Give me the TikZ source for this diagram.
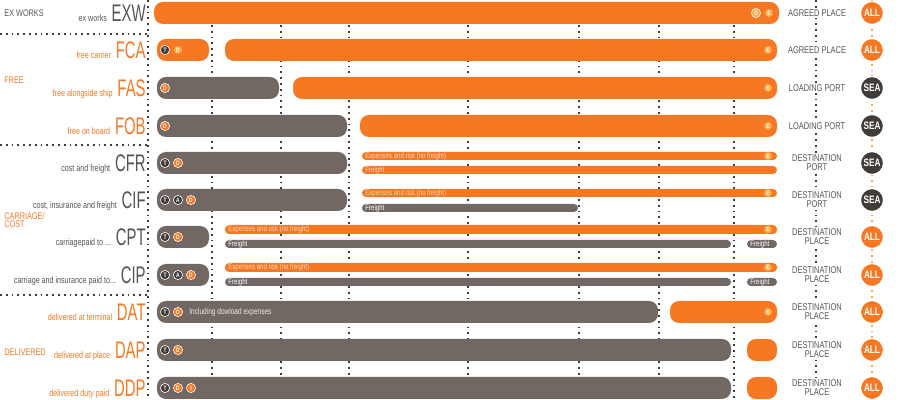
\documentclass[tikz,border=0pt]{standalone}
\usepackage{fontspec}
\newfontfamily\condfont{Liberation Sans}[FakeStretch=0.76]
\newfontfamily\termfont{Liberation Sans}[FakeStretch=0.62]
\definecolor{incoorange}{RGB}{246,120,34}
\definecolor{incogray}{RGB}{113,104,100}
\definecolor{incodark}{RGB}{66,60,57}
\definecolor{incolight}{RGB}{250,170,70}
\definecolor{labelgray}{RGB}{85,85,85}
\tikzset{
  bar/.style={rounded corners=4.5pt},
  thinbar/.style={rounded corners=2pt},
  griddots/.style={line width=0.9pt, dotted, incodark},
  icon/.style={circle, inner sep=0pt, minimum size=4.6pt, draw=white, line width=0.3pt,
    font=\condfont\bfseries\fontsize{3.2}{3.2}\selectfont, text=white},
  ticon/.style={icon, fill=incodark},
  dicon/.style={icon, fill=incoorange},
  eicon/.style={icon, fill=incolight, draw=none, minimum size=4pt},
  code/.style={anchor=base east, inner sep=0pt, font=\termfont\fontsize{12}{12}\selectfont},
  descr/.style={anchor=base east, inner sep=0pt, font=\condfont\fontsize{4.7}{5}\selectfont},
  group/.style={anchor=west, inner sep=0pt, align=left, font=\condfont\fontsize{4.8}{4.4}\selectfont},
  place/.style={fill=white, inner sep=1pt, align=center, text=labelgray,
    font=\condfont\fontsize{4.9}{4.6}\selectfont},
  mode/.style={circle, minimum size=11.5pt, inner sep=0pt, text=white,
    font=\condfont\bfseries\fontsize{5.4}{5}\selectfont},
  bartext/.style={anchor=west, inner sep=0pt, font=\condfont\fontsize{4}{4}\selectfont},
}
\begin{document}
\begin{tikzpicture}[x=0.5pt,y=-0.5pt]
  \useasboundingbox (0,0) rectangle (900,400);

  % Grid
  \draw[griddots] (148,0) -- (148,400);
  \foreach \y in {34,145,295}
    \draw[griddots] (0,\y) -- (148,\y);
  \foreach \x in {212,281,349,468,579,659,734}
    \draw[griddots] (\x,25) -- (\x,400);
  \draw[griddots] (816,0) -- (816,400);
  \draw[line width=0.9pt, dotted, incolight] (872,0) -- (872,400);

  % Groups
  \node[group, text=labelgray] (gexw) at (4,13) {EX WORKS};
  \node[group, text=incoorange] (gfree) at (4,80) {FREE};
  \node[group, text=incoorange] (gcost) at (4,220) {CARRIAGE/\\COST};
  \node[group, text=incoorange] (gdel) at (4,352) {DELIVERED};

  % Terms
  \foreach \y/\name/\term/\txt/\col in {
      13/exw/EXW/{ex works}/labelgray,
      50/fca/FCA/{free carrier}/incoorange,
      88/fas/FAS/{free alongside ship}/incoorange,
      126/fob/FOB/{free on board}/incoorange,
      163/cfr/CFR/{cost and freight}/labelgray,
      200/cif/CIF/{cost, insurance and freight}/labelgray,
      237/cpt/CPT/{carriagepaid to ...}/labelgray,
      275/cip/CIP/{carriage and insurance paid to...}/labelgray,
      312/dat/DAT/{delivered at terminal}/incoorange,
      350/dap/DAP/{delivered at place}/incoorange,
      388/ddp/DDP/{delivered duty paid}/incoorange}{
    \node[code, text=\col] (\name) at (146,\y+8.5) {\term};
    \node[descr, text=\col] (\name txt) at ([xshift=-2pt]\name.base west) {\txt};
  }

  % Places and modes
  \foreach \y/\name/\place/\mode/\col in {
      13/exw/{AGREED PLACE}/ALL/incoorange,
      50/fca/{AGREED PLACE}/ALL/incoorange,
      88/fas/{LOADING PORT}/SEA/incodark,
      126/fob/{LOADING PORT}/SEA/incodark,
      163/cfr/{DESTINATION\\PORT}/SEA/incodark,
      200/cif/{DESTINATION\\PORT}/SEA/incodark,
      237/cpt/{DESTINATION\\PLACE}/ALL/incoorange,
      275/cip/{DESTINATION\\PLACE}/ALL/incoorange,
      312/dat/{DESTINATION\\PLACE}/ALL/incoorange,
      350/dap/{DESTINATION\\PLACE}/ALL/incoorange,
      388/ddp/{DESTINATION\\PLACE}/ALL/incoorange}{
    \node[place] (\name place) at (817,\y) {\place};
    \node[mode, fill=\col, draw=white, line width=0.6pt] (\name mode) at (872,\y) {\mode};
  }

  % EXW
  \fill[incoorange, bar] (154,2) rectangle (779,24);
  \node[dicon, fill=incolight] (exwD) at (756,13) {D};
  \node[eicon] (exwE) at (769,13) {E};

  % FCA
  \fill[incoorange, bar] (157,39) rectangle (209,61);
  \fill[incoorange, bar] (225,39) rectangle (777,61);
  \node[ticon] (fcaT) at (165,50) {T};
  \node[eicon] (fcaD) at (178,50) {D};
  \node[eicon] (fcaE) at (768,50) {E};

  % FAS
  \fill[incogray, bar] (157,77) rectangle (279,99);
  \fill[incoorange, bar] (293,77) rectangle (777,99);
  \node[dicon] (fasD) at (165,88) {D};
  \node[eicon] (fasE) at (768,88) {E};

  % FOB
  \fill[incogray, bar] (157,115) rectangle (347,137);
  \fill[incoorange, bar] (360,115) rectangle (777,137);
  \node[dicon] (fobD) at (165,126) {D};
  \node[eicon] (fobE) at (768,126) {E};

  % CFR
  \fill[incogray, bar] (157,152) rectangle (347,174);
  \fill[incoorange, thinbar] (362,152) rectangle (777,160);
  \fill[incoorange, thinbar] (362,166) rectangle (777,174);
  \node[ticon] (cfrT) at (165,163) {T};
  \node[dicon] (cfrD) at (178,163) {D};
  \node[bartext, text=white!70!incoorange] (cfrrisk) at (365,156) {Expenses and risk (no freight)};
  \node[bartext, text=white!70!incoorange] (cfrfreight) at (365,170) {Freight};
  \node[eicon] (cfrE) at (768,156) {E};

  % CIF
  \fill[incogray, bar] (157,189) rectangle (347,211);
  \fill[incoorange, thinbar] (362,189) rectangle (777,197);
  \fill[incogray, thinbar] (362,204) rectangle (578,212);
  \node[ticon] (cifT) at (165,200) {T};
  \node[ticon] (cifA) at (178,200) {A};
  \node[dicon] (cifD) at (191,200) {D};
  \node[bartext, text=white!70!incoorange] (cifrisk) at (365,193) {Expenses and risk (no freight)};
  \node[bartext, text=white] (ciffreight) at (365,208) {Freight};
  \node[eicon] (cifE) at (768,193) {E};

  % CPT
  \fill[incogray, bar] (157,226) rectangle (209,248);
  \fill[incoorange, thinbar] (225,225) rectangle (777,234);
  \fill[incogray, thinbar] (225,240) rectangle (731,248);
  \fill[incogray, thinbar] (747,240) rectangle (777,248);
  \node[ticon] (cptT) at (165,237) {T};
  \node[dicon] (cptD) at (178,237) {D};
  \node[bartext, text=white!70!incoorange] (cptrisk) at (228,229.5) {Expenses and risk (no freight)};
  \node[bartext, text=white] (cptfreight) at (228,244) {Freight};
  \node[bartext, text=white] (cptlast) at (750,244) {Freight};
  \node[eicon] (cptE) at (768,229.5) {E};

  % CIP
  \fill[incogray, bar] (157,264) rectangle (209,286);
  \fill[incoorange, thinbar] (225,263) rectangle (777,272);
  \fill[incogray, thinbar] (225,278) rectangle (731,286);
  \fill[incogray, thinbar] (747,278) rectangle (777,286);
  \node[ticon] (cipT) at (165,275) {T};
  \node[ticon] (cipA) at (178,275) {A};
  \node[dicon] (cipD) at (191,275) {D};
  \node[bartext, text=white!70!incoorange] (ciprisk) at (228,267.5) {Expenses and risk (no freight)};
  \node[bartext, text=white] (cipfreight) at (228,282) {Freight};
  \node[bartext, text=white] (ciplast) at (750,282) {Freight};
  \node[eicon] (cipE) at (768,267.5) {E};

  % DAT
  \fill[incogray, bar] (157,301) rectangle (658,323);
  \fill[incoorange, bar] (670,301) rectangle (777,323);
  \node[ticon] (datT) at (165,312) {T};
  \node[dicon] (datD) at (178,312) {D};
  \node[bartext, text=white!85!incogray, font=\condfont\fontsize{4.3}{4}\selectfont] (dattxt) at (189,312) {Including dowload expenses};
  \node[eicon] (datE) at (768,312) {E};

  % DAP
  \fill[incogray, bar] (157,339) rectangle (731,361);
  \fill[incoorange, bar] (747,339) rectangle (777,361);
  \node[ticon] (dapT) at (165,350) {T};
  \node[dicon] (dapD) at (178,350) {D};

  % DDP
  \fill[incogray, bar] (157,377) rectangle (731,399);
  \fill[incoorange, bar] (747,377) rectangle (777,399);
  \node[ticon] (ddpT) at (165,388) {T};
  \node[dicon] (ddpD) at (178,388) {D};
  \node[dicon] (ddpI) at (191,388) {I};
\end{tikzpicture}
\end{document}
